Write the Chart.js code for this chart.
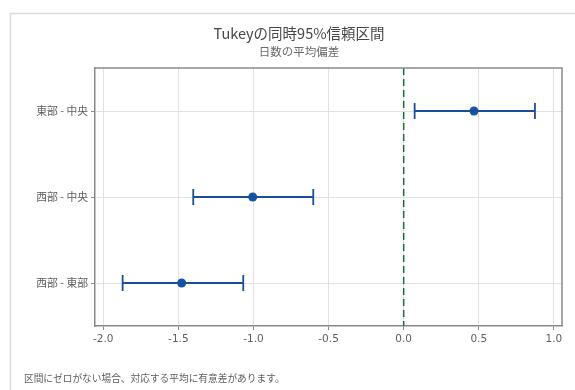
<!DOCTYPE html>
<html>
<head>
<meta charset="utf-8">
<script src="https://cdn.jsdelivr.net/npm/chart.js@4/dist/chart.umd.min.js"></script>
<style>
  html, body { margin: 0; padding: 0; background: #fff; }
  #wrap { width: 575px; height: 390px; position: relative; }
</style>
</head>
<body>
<div id="wrap"><canvas id="c" width="575" height="390"></canvas></div>
<script>
// Pairwise comparisons (Tukey HSD): mean difference and 95% simultaneous interval
const comparisons = ['東部 - 中央', '西部 - 中央', '西部 - 東部'];
const meanDiff = [0.468, -1.005, -1.478];
const lowerCI = [0.073, -1.401, -1.871];
const upperCI = [0.874, -0.602, -1.068];
const xTicks = [-2.0, -1.5, -1.0, -0.5, 0.0, 0.5, 1.0];

const titleText = 'Tukeyの同時95%信頼区間';
const subtitleText = '日数の平均偏差';
const noteText = '区間にゼロがない場合、対応する平均に有意差があります。';

const BLUE = '#1a4f98';
const DOT = '#1553a5';
const GREEN = '#167030';
const AXIS = '#8a8a8a';
const GRID = '#e2e2e2';
const TEXT = '#5e5e5e';
const JP = '"Noto Sans CJK JP", "Noto Sans", sans-serif';

const datasets = [];

// reference line at zero difference
datasets.push({
  data: [{ x: 0, y: -0.5 }, { x: 0, y: 2.5 }],
  showLine: true,
  borderColor: GREEN,
  borderWidth: 1.5,
  borderDash: [7, 4],
  pointRadius: 0
});

// interval bars with end caps
comparisons.forEach((name, i) => {
  datasets.push({
    label: name,
    data: [{ x: lowerCI[i], y: i }, { x: upperCI[i], y: i }],
    showLine: true,
    borderColor: BLUE,
    borderWidth: 2,
    pointStyle: 'line',
    rotation: 90,
    pointRadius: 8,
    pointHoverRadius: 8,
    pointBorderWidth: 1.8,
    pointBorderColor: BLUE,
    pointBackgroundColor: BLUE
  });
});

// mean differences
datasets.push({
  data: meanDiff.map((m, i) => ({ x: m, y: i })),
  showLine: false,
  pointStyle: 'circle',
  pointRadius: 4.5,
  pointHoverRadius: 4.5,
  pointBorderWidth: 0,
  pointBackgroundColor: DOT,
  pointBorderColor: DOT
});

const decorations = {
  id: 'decorations',
  beforeDraw(chart) {
    const ctx = chart.ctx;
    ctx.save();
    ctx.fillStyle = '#ffffff';
    ctx.fillRect(0, 0, chart.width, chart.height);
    // panel frame
    ctx.strokeStyle = '#dcdcdc';
    ctx.lineWidth = 1.5;
    ctx.strokeRect(10.5, 13.5, 600, 400);
    ctx.restore();
  },
  afterDraw(chart) {
    const ctx = chart.ctx;
    const a = chart.chartArea;
    ctx.save();
    // top and right spines
    ctx.strokeStyle = AXIS;
    ctx.lineWidth = 1.5;
    ctx.beginPath();
    ctx.moveTo(a.left, a.top);
    ctx.lineTo(a.right, a.top);
    ctx.lineTo(a.right, a.bottom);
    ctx.stroke();

    // titles
    ctx.textAlign = 'center';
    ctx.textBaseline = 'middle';
    ctx.fillStyle = '#474747';
    ctx.font = '14.5px ' + JP;
    ctx.fillText(titleText, 299, 33);
    ctx.fillStyle = '#6a6a6a';
    ctx.font = '11.5px ' + JP;
    ctx.fillText(subtitleText, 299, 52);

    // footnote
    ctx.textAlign = 'left';
    ctx.fillStyle = TEXT;
    ctx.font = '9.7px ' + JP;
    ctx.fillText(noteText, 24, 378);
    ctx.restore();
  }
};

new Chart(document.getElementById('c'), {
  type: 'scatter',
  data: { datasets },
  options: {
    responsive: false,
    animation: false,
    events: [],
    layout: { padding: { top: 68, right: 13, bottom: 34, left: 0 } },
    plugins: {
      legend: { display: false },
      tooltip: { enabled: false },
      title: { display: false }
    },
    scales: {
      x: {
        type: 'linear',
        min: -2.055,
        max: 1.054,
        afterBuildTicks(scale) { scale.ticks = xTicks.map(v => ({ value: v })); },
        afterFit(scale) { scale.height = 30; },
        ticks: {
          callback: v => v.toFixed(1),
          color: TEXT,
          font: { family: '"DejaVu Sans", sans-serif', size: 10.5 },
          padding: 3,
          maxRotation: 0
        },
        grid: { color: GRID, lineWidth: 1, tickColor: AXIS, tickLength: 4, drawTicks: true },
        border: { display: true, color: AXIS, width: 1.5 }
      },
      y: {
        type: 'linear',
        reverse: true,
        min: -0.5,
        max: 2.5,
        afterBuildTicks(scale) { scale.ticks = comparisons.map((_, i) => ({ value: i })); },
        afterFit(scale) { scale.width = 95; },
        ticks: {
          callback: v => comparisons[v],
          color: TEXT,
          font: { family: JP, size: 10.8 },
          padding: 3
        },
        grid: { color: GRID, lineWidth: 1, tickColor: AXIS, tickLength: 4, drawTicks: true },
        border: { display: true, color: AXIS, width: 1.5 }
      }
    }
  },
  plugins: [decorations]
});
</script>
</body>
</html>
